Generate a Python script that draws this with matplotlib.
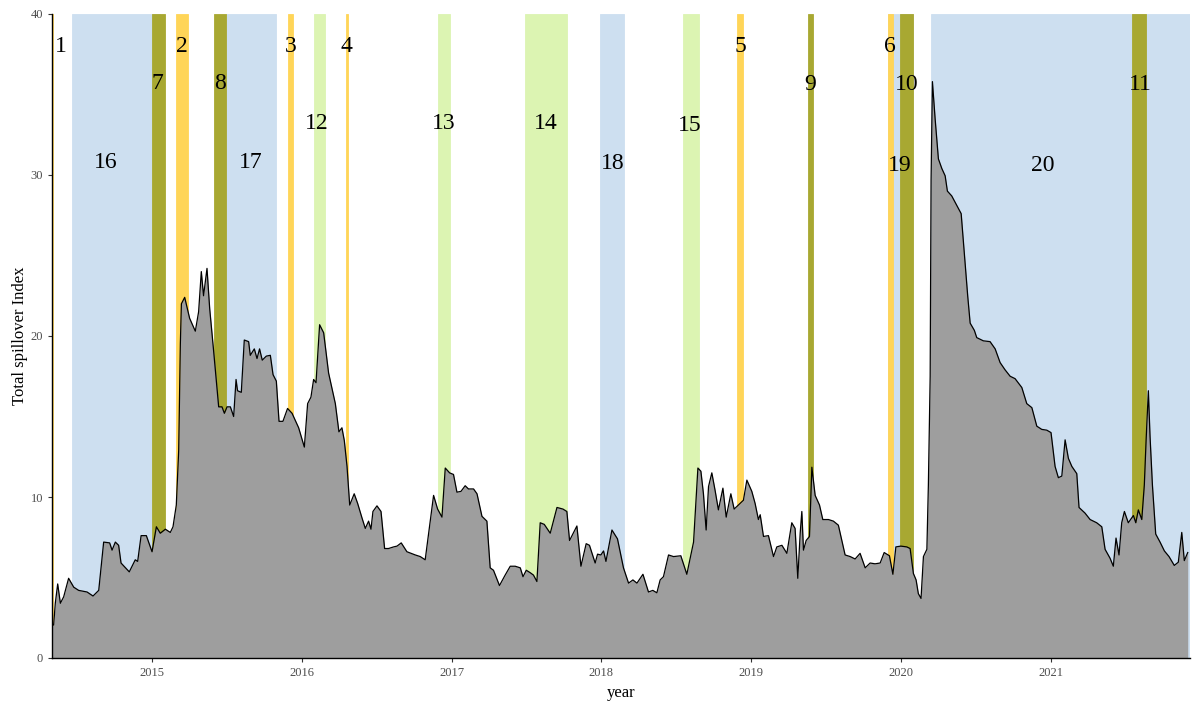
import matplotlib
matplotlib.use("Agg")
from matplotlib import pyplot as plt
import numpy as np

# ------- data (decimal year, index value) -------
years = [2014.332, 2014.343, 2014.354, 2014.370, 2014.388, 2014.410, 2014.443, 2014.477,
         2014.510, 2014.566, 2014.606, 2014.644, 2014.677, 2014.717, 2014.733, 2014.755,
         2014.777, 2014.793, 2014.848, 2014.888, 2014.904, 2014.927, 2014.962, 2015.000,
         2015.029, 2015.055, 2015.089, 2015.122, 2015.140, 2015.162, 2015.178, 2015.189,
         2015.196, 2015.218, 2015.251, 2015.289, 2015.311, 2015.329, 2015.344, 2015.367,
         2015.385, 2015.411, 2015.445, 2015.467, 2015.483, 2015.501, 2015.523, 2015.545,
         2015.561, 2015.571, 2015.596, 2015.616, 2015.645, 2015.656, 2015.683, 2015.701,
         2015.718, 2015.736, 2015.763, 2015.790, 2015.808, 2015.830, 2015.848, 2015.874,
         2015.905, 2015.935, 2015.979, 2016.017, 2016.039, 2016.061, 2016.079, 2016.095,
         2016.119, 2016.146, 2016.179, 2016.224, 2016.248, 2016.268, 2016.284, 2016.302,
         2016.320, 2016.350, 2016.373, 2016.402, 2016.424, 2016.446, 2016.462, 2016.475,
         2016.502, 2016.529, 2016.553, 2016.579, 2016.613, 2016.636, 2016.664, 2016.702,
         2016.758, 2016.791, 2016.824, 2016.853, 2016.880, 2016.907, 2016.936, 2016.958,
         2016.987, 2017.013, 2017.036, 2017.063, 2017.091, 2017.113, 2017.147, 2017.170,
         2017.203, 2017.236, 2017.258, 2017.280, 2017.320, 2017.358, 2017.392, 2017.425,
         2017.459, 2017.477, 2017.499, 2017.525, 2017.547, 2017.570, 2017.592, 2017.619,
         2017.641, 2017.659, 2017.704, 2017.744, 2017.770, 2017.788, 2017.837, 2017.864,
         2017.899, 2017.921, 2017.959, 2017.975, 2017.997, 2018.015, 2018.031, 2018.071,
         2018.108, 2018.148, 2018.182, 2018.211, 2018.238, 2018.278, 2018.315, 2018.344,
         2018.371, 2018.393, 2018.415, 2018.449, 2018.482, 2018.531, 2018.571, 2018.616,
         2018.645, 2018.665, 2018.682, 2018.700, 2018.716, 2018.738, 2018.760, 2018.782,
         2018.812, 2018.834, 2018.865, 2018.887, 2018.927, 2018.949, 2018.972, 2019.005,
         2019.027, 2019.049, 2019.061, 2019.083, 2019.116, 2019.150, 2019.172, 2019.206,
         2019.239, 2019.272, 2019.294, 2019.312, 2019.328, 2019.339, 2019.350, 2019.368,
         2019.390, 2019.406, 2019.428, 2019.457, 2019.479, 2019.517, 2019.550, 2019.583,
         2019.606, 2019.628, 2019.662, 2019.695, 2019.728, 2019.762, 2019.795, 2019.828,
         2019.862, 2019.889, 2019.924, 2019.947, 2019.967, 2020.000, 2020.040, 2020.062,
         2020.084, 2020.102, 2020.117, 2020.135, 2020.151, 2020.174, 2020.184, 2020.196,
         2020.202, 2020.211, 2020.229, 2020.251, 2020.274, 2020.296, 2020.311, 2020.340,
         2020.374, 2020.403, 2020.425, 2020.447, 2020.463, 2020.491, 2020.507, 2020.551,
         2020.596, 2020.630, 2020.663, 2020.696, 2020.730, 2020.763, 2020.808, 2020.841,
         2020.875, 2020.908, 2020.941, 2020.975, 2021.003, 2021.030, 2021.052, 2021.075,
         2021.097, 2021.119, 2021.142, 2021.175, 2021.190, 2021.230, 2021.264, 2021.308,
         2021.342, 2021.364, 2021.397, 2021.419, 2021.437, 2021.457, 2021.475, 2021.493,
         2021.519, 2021.553, 2021.569, 2021.586, 2021.609, 2021.626, 2021.638, 2021.653,
         2021.664, 2021.680, 2021.702, 2021.731, 2021.760, 2021.791, 2021.826, 2021.853,
         2021.876, 2021.893, 2021.916]

spillover = [2.05, 2.05, 3.4, 4.6, 3.4, 3.8, 4.95, 4.4,
             4.2, 4.1, 3.85, 4.2, 7.2, 7.15, 6.7, 7.2,
             7.0, 5.9, 5.35, 6.1, 6.0, 7.6, 7.6, 6.6,
             8.15, 7.75, 8.0, 7.8, 8.15, 9.5, 12.9, 19.5,
             22.0, 22.4, 21.1, 20.3, 21.5, 24.0, 22.5, 24.2,
             21.7, 19.1, 15.6, 15.6, 15.2, 15.6, 15.6, 15.0,
             17.3, 16.6, 16.5, 19.75, 19.65, 18.8, 19.2, 18.6,
             19.2, 18.5, 18.75, 18.8, 17.6, 17.2, 14.7, 14.7,
             15.5, 15.2, 14.3, 13.1, 15.8, 16.2, 17.3, 17.1,
             20.7, 20.2, 17.7, 15.8, 14.05, 14.3, 13.5, 11.9,
             9.5, 10.2, 9.6, 8.7, 8.05, 8.5, 8.0, 9.1,
             9.45, 9.1, 6.8, 6.8, 6.9, 6.95, 7.15, 6.6,
             6.4, 6.3, 6.1, 8.15, 10.1, 9.25, 8.75, 11.8,
             11.5, 11.4, 10.3, 10.35, 10.7, 10.5, 10.5, 10.2,
             8.8, 8.5, 5.6, 5.45, 4.5, 5.15, 5.7, 5.7,
             5.6, 5.05, 5.45, 5.3, 5.15, 4.75, 8.4, 8.3,
             8.0, 7.75, 9.35, 9.25, 9.1, 7.3, 8.2, 5.7,
             7.1, 7.0, 5.9, 6.45, 6.4, 6.65, 6.0, 7.95,
             7.4, 5.6, 4.65, 4.85, 4.65, 5.2, 4.1, 4.2,
             4.05, 4.85, 5.05, 6.4, 6.3, 6.35, 5.2, 7.2,
             11.8, 11.6, 10.2, 7.95, 10.65, 11.5, 10.4, 9.2,
             10.55, 8.75, 10.2, 9.25, 9.6, 9.8, 11.05, 10.35,
             9.6, 8.6, 8.9, 7.55, 7.6, 6.3, 6.9, 7.0,
             6.5, 8.4, 8.05, 4.95, 7.75, 9.1, 6.7, 7.3,
             7.55, 11.85, 10.1, 9.5, 8.6, 8.6, 8.5, 8.25,
             7.3, 6.4, 6.3, 6.15, 6.5, 5.6, 5.9, 5.85,
             5.9, 6.55, 6.35, 5.2, 6.9, 6.95, 6.9, 6.8,
             5.25, 4.85, 4.0, 3.7, 6.3, 6.75, 10.75, 17.5,
             29.7, 35.8, 33.5, 31.0, 30.4, 29.95, 29.0, 28.7,
             28.1, 27.6, 25.0, 22.45, 20.8, 20.35, 19.9, 19.7,
             19.65, 19.2, 18.35, 17.9, 17.5, 17.35, 16.8, 15.8,
             15.55, 14.4, 14.2, 14.15, 14.0, 11.9, 11.2, 11.3,
             13.55, 12.4, 11.9, 11.45, 9.35, 9.0, 8.6, 8.4,
             8.15, 6.75, 6.2, 5.7, 7.45, 6.4, 8.4, 9.1,
             8.4, 8.85, 8.4, 9.2, 8.6, 10.75, 13.55, 16.6,
             13.8, 10.75, 7.7, 7.2, 6.65, 6.3, 5.75, 5.95,
             7.8, 6.05, 6.55]

# event bands: (start, end, kind)
band_start = [2014.466, 2015.491, 2017.993, 2019.913, 2020.200,
              2016.081, 2016.911, 2017.492, 2018.545,
              2014.332, 2015.160, 2015.905, 2016.297, 2018.909, 2019.913,
              2015.000, 2015.414, 2019.377, 2019.995, 2021.546]
band_end = [2015.050, 2015.828, 2018.153, 2020.080, 2021.931,
            2016.152, 2016.991, 2017.770, 2018.654,
            2014.342, 2015.238, 2015.939, 2016.306, 2018.949, 2019.947,
            2015.084, 2015.491, 2019.413, 2020.080, 2021.636]
band_kind = ['blue'] * 5 + ['green'] * 4 + ['orange'] * 6 + ['olive'] * 5

# numbered labels
label_text = [str(i) for i in range(1, 21)]
label_x = [2014.388, 2015.202, 2015.923, 2016.297, 2018.927, 2019.928,
           2015.035, 2015.456, 2019.395, 2020.042, 2021.598,
           2016.103, 2016.945, 2017.626, 2018.588,
           2014.688, 2015.656, 2018.079, 2019.995, 2020.950]
label_y = [38.0, 38.0, 38.0, 38.0, 38.0, 38.0,
           35.7, 35.7, 35.6, 35.6, 35.6,
           33.2, 33.2, 33.2, 33.1,
           30.8, 30.8, 30.7, 30.6, 30.6]

colors = {'blue': '#CDDFF0', 'green': '#DCF4B2', 'orange': '#FFD558', 'olive': '#A8A832'}

plt.rcParams['font.family'] = ['Liberation Serif', 'DejaVu Serif']

fig = plt.figure(figsize=(11.92, 7.07), dpi=100)
ax = fig.add_axes([52 / 1192, 49 / 707, 1138 / 1192, 644 / 707])

for s, e, k in zip(band_start, band_end, band_kind):
    ax.axvspan(s, e, facecolor=colors[k], edgecolor=colors[k], lw=0.6, zorder=1)

ax.fill_between(years, spillover, 0, color='#9E9E9E', lw=0, zorder=2)
ax.plot(years, spillover, color='black', lw=0.9, zorder=3)

for t, x, y in zip(label_text, label_x, label_y):
    ax.text(x, y, t, ha='center', va='center', fontsize=17, color='black', zorder=4)

ax.set_xlim(2014.332, 2021.931)
ax.set_ylim(0, 40)
ax.set_xticks(range(2015, 2022))
ax.set_yticks([0, 10, 20, 30, 40])
ax.set_xlabel('year', fontsize=12, labelpad=4)
ax.set_ylabel('Total spillover Index', fontsize=12, labelpad=2)

for side in ['top', 'right']:
    ax.spines[side].set_visible(False)
for side in ['left', 'bottom']:
    ax.spines[side].set_linewidth(1.0)
    ax.spines[side].set_color('black')
ax.tick_params(axis='both', direction='out', length=3, width=0.8, color='#333333',
               labelsize=9, labelcolor='#4D4D4D')

fig.savefig('out.png', dpi=100)
